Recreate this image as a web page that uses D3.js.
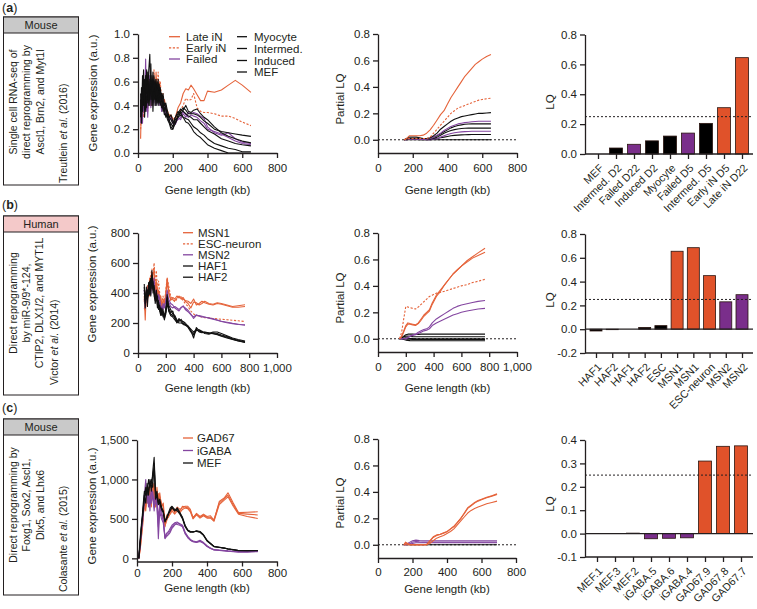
<!DOCTYPE html>
<html><head><meta charset="utf-8">
<script src="https://cdn.jsdelivr.net/npm/d3@7"></script>
<style>
body{margin:0;background:#fff}
svg text{font-family:"Liberation Sans",Arial,Helvetica,sans-serif;fill:#231f20}
</style></head>
<body><svg id="chart" width="757" height="609"></svg>
<script>
// ================= DATA =================
// ---- (a) Treutlein et al. ----
const aX = [15,20,26,32,38,44,50,56,62,68,74,80,86,92,98,104,110,116,122,128,136,144,152,160,170,180,190,200,
  215,230,245,260,275,290,305,320,340,360,380,400,440,480,520,560,600,650];
const aLateIN  = [0.12,0.45,0.3,0.55,0.35,0.6,0.4,0.65,0.5,0.45,0.62,0.4,0.55,0.6,0.45,0.68,0.5,0.55,0.6,0.45,0.5,0.42,0.45,0.38,0.35,0.3,0.32,0.28,
  0.3,0.38,0.42,0.5,0.54,0.53,0.57,0.54,0.49,0.44,0.44,0.52,0.51,0.53,0.57,0.61,0.57,0.51];
const aEarlyIN = [0.2,0.35,0.5,0.3,0.6,0.45,0.55,0.35,0.62,0.5,0.4,0.58,0.45,0.7,0.5,0.45,0.55,0.68,0.5,0.6,0.45,0.5,0.4,0.38,0.35,0.32,0.3,0.3,
  0.28,0.33,0.36,0.4,0.46,0.44,0.45,0.5,0.38,0.35,0.34,0.34,0.33,0.31,0.31,0.29,0.26,0.23];
const aFailed1 = [0.3,0.5,0.25,0.6,0.4,0.79,0.35,0.55,0.45,0.6,0.38,0.5,0.62,0.42,0.55,0.4,0.5,0.45,0.55,0.42,0.4,0.45,0.38,0.35,0.3,0.28,0.3,0.26,
  0.24,0.3,0.28,0.33,0.3,0.34,0.33,0.34,0.33,0.31,0.29,0.22,0.17,0.15,0.17,0.12,0.09,0.08];
const aFailed2 = [0.25,0.4,0.55,0.35,0.5,0.45,0.6,0.3,0.5,0.65,0.45,0.55,0.4,0.6,0.48,0.55,0.42,0.5,0.4,0.48,0.35,0.4,0.33,0.36,0.32,0.27,0.3,0.25,
  0.26,0.28,0.3,0.35,0.32,0.3,0.32,0.31,0.3,0.27,0.25,0.2,0.18,0.16,0.13,0.1,0.08,0.07];
const aMyocyte = [0.4,0.3,0.65,0.45,0.55,0.35,0.6,0.5,0.7,0.83,0.45,0.6,0.5,0.65,0.4,0.55,0.6,0.45,0.5,0.55,0.45,0.5,0.4,0.42,0.35,0.3,0.32,0.27,
  0.25,0.32,0.35,0.38,0.36,0.33,0.33,0.33,0.32,0.3,0.27,0.25,0.2,0.18,0.17,0.16,0.15,0.14];
const aIntermed1 = [0.35,0.55,0.4,0.7,0.3,0.5,0.65,0.42,0.55,0.5,0.75,0.4,0.6,0.45,0.55,0.62,0.42,0.5,0.58,0.45,0.5,0.38,0.42,0.36,0.32,0.3,0.28,0.25,
  0.3,0.35,0.33,0.36,0.4,0.35,0.34,0.36,0.37,0.33,0.3,0.28,0.22,0.17,0.14,0.12,0.1,0.085];
const aIntermed2 = [0.45,0.25,0.5,0.4,0.62,0.5,0.38,0.68,0.45,0.55,0.5,0.65,0.35,0.55,0.6,0.4,0.52,0.62,0.45,0.52,0.48,0.45,0.35,0.4,0.3,0.26,0.25,0.22,
  0.3,0.33,0.37,0.35,0.33,0.31,0.3,0.28,0.28,0.25,0.22,0.19,0.16,0.12,0.1,0.08,0.07,0.06];
const aInduced = [0.3,0.48,0.35,0.58,0.42,0.55,0.7,0.45,0.6,0.4,0.58,0.5,0.68,0.5,0.45,0.58,0.48,0.4,0.52,0.4,0.46,0.35,0.38,0.3,0.33,0.28,0.22,0.2,
  0.28,0.3,0.34,0.3,0.29,0.28,0.25,0.22,0.2,0.17,0.15,0.12,0.08,0.06,0.04,0.03,0.01,0.01];
const aMEF = [0.5,0.35,0.45,0.6,0.38,0.65,0.5,0.58,0.4,0.62,0.55,0.45,0.6,0.52,0.62,0.45,0.55,0.5,0.42,0.5,0.38,0.4,0.32,0.33,0.28,0.25,0.2,0.2,
  0.25,0.3,0.32,0.3,0.26,0.25,0.22,0.18,0.15,0.13,0.1,0.07,0.04,0.02,0,0,0,0];
const aLegendCol1 = ["Late iN","Early iN","Failed"];
const aLegendCol2 = ["Myocyte","Intermed.","Induced","MEF"];

const aPX = [150,165,180,200,220,240,260,280,300,320,340,360,380,400,420,440,460,480,500,520,540,560,580,600,625,650];
const aPLate  = [0,0.01,0.03,0.03,0.03,0.03,0.035,0.05,0.075,0.11,0.15,0.19,0.22,0.27,0.32,0.36,0.4,0.44,0.48,0.51,0.54,0.57,0.59,0.61,0.63,0.645];
const aPEarly = [0,0.005,0.01,0.01,0.01,0.01,0.01,0.01,0.02,0.05,0.08,0.11,0.14,0.17,0.2,0.22,0.24,0.25,0.26,0.27,0.28,0.29,0.3,0.305,0.31,0.315];
const aPIntD5 = [0,0.005,0.01,0.01,0.01,0.01,0.01,0.01,0.015,0.03,0.05,0.08,0.1,0.12,0.14,0.155,0.165,0.175,0.18,0.185,0.19,0.195,0.2,0.2,0.203,0.205];
const aPFailD5 = [0,0.005,0.01,0.01,0.01,0.005,0.005,0.005,0.01,0.02,0.035,0.05,0.07,0.085,0.1,0.11,0.12,0.125,0.13,0.133,0.136,0.138,0.14,0.14,0.14,0.14];
const aPMyo = [0,0.01,0.02,0.02,0.02,0.015,0.01,0.01,0.01,0.02,0.03,0.045,0.06,0.075,0.09,0.1,0.108,0.113,0.117,0.119,0.12,0.12,0.12,0.12,0.12,0.12];
const aPIndD2 = [0,0.005,0.01,0.01,0.01,0.01,0.01,0.005,0.005,0.01,0.02,0.035,0.05,0.06,0.07,0.077,0.082,0.085,0.087,0.088,0.088,0.088,0.088,0.088,0.088,0.088];
const aPFailD22 = [0,0,0.005,0.005,0.005,0.005,0.005,0,0,0.005,0.01,0.02,0.03,0.04,0.047,0.053,0.057,0.06,0.062,0.063,0.064,0.065,0.065,0.065,0.065,0.065];
const aPIntD2 = [0,0,0.005,0.005,0.005,0,0,0,0,0.005,0.01,0.015,0.02,0.025,0.03,0.033,0.035,0.037,0.038,0.039,0.04,0.04,0.04,0.04,0.04,0.04];
const aPMEF = [0,0,0,0,0,0,0,0,0,0,0,0,0,0,0,0,0,0,0,0,0,0,0,0,0,0];

const aBarLabels = ["MEF","Intermed. D2","Failed D22","Induced D2","Myocyte","Failed D5","Intermed. D5","Early iN D5","Late iN D22"];
const aBarValues = [0,0.04,0.065,0.088,0.12,0.14,0.205,0.31,0.645];
const aBarGroups = ["k","k","p","k","k","p","k","o","o"];

// ---- (b) Victor et al. ----
const bX = [45,52,60,68,76,84,92,100,108,116,124,132,140,148,156,164,172,180,190,200,210,220,235,250,
  265,280,295,310,325,340,360,380,400,420,440,460,480,510,540,570,600,640,680,720,770];
const bMSN1a = [380,220,420,330,450,380,500,420,520,560,400,480,350,420,380,330,300,360,320,400,500,420,350,370,
  360,380,370,375,360,350,345,330,360,320,330,345,335,325,320,330,325,315,305,305,310];
const bMSN1b = [350,300,380,450,400,500,430,540,480,500,450,400,430,380,350,380,320,300,340,380,480,400,360,355,
  350,365,380,360,370,345,330,300,340,335,320,330,345,330,325,335,330,320,310,315,322];
const bESCneuron = [300,280,350,420,380,480,520,560,520,600,450,550,420,480,400,350,320,380,330,420,500,450,380,360,
  340,360,370,365,350,330,310,280,260,250,245,240,235,235,230,228,225,222,218,215,210];
const bMSN2a = [420,300,380,350,460,400,480,450,420,500,380,420,340,390,360,320,280,330,300,350,420,360,330,320,
  300,290,280,300,315,290,275,255,240,255,245,240,238,235,228,220,212,205,198,192,185];
const bMSN2b = [360,330,410,380,420,440,390,500,460,430,360,400,380,350,330,300,310,290,320,340,380,340,310,300,
  310,300,290,305,310,300,285,260,230,250,250,245,240,232,226,218,210,202,196,190,188];
const bHAF1a = [460,300,440,360,400,480,380,550,450,420,330,380,300,350,280,250,300,260,220,280,390,300,270,280,
  230,200,220,215,210,200,180,150,100,170,150,140,135,130,140,140,130,115,100,90,80];
const bHAF1b = [400,350,420,310,470,420,500,430,480,380,350,420,340,300,320,280,250,290,240,300,350,320,290,260,
  250,220,210,225,200,190,170,140,120,150,155,145,130,125,135,130,120,110,95,85,75];
const bHAF2a = [440,330,390,420,380,440,460,500,400,450,380,350,380,290,300,260,280,240,250,270,370,280,250,240,
  220,205,230,210,190,185,175,150,130,160,140,135,140,135,130,125,115,105,92,82,72];
const bHAF2b = [420,380,360,400,430,390,470,520,440,400,360,400,320,330,280,300,260,270,230,260,330,290,260,250,
  240,210,200,200,195,190,180,160,140,155,145,140,138,132,128,122,112,100,90,80,70];
const bLegend = ["MSN1","ESC-neuron","MSN2","HAF1","HAF2"];

const bPX = [155,170,185,200,215,230,250,270,290,310,330,350,370,390,420,450,480,510,540,570,600,640,680,720,770];
const bPMSN1a = [0,0.02,0.06,0.1,0.12,0.115,0.11,0.105,0.12,0.15,0.18,0.2,0.22,0.27,0.33,0.37,0.41,0.45,0.49,0.52,0.55,0.59,0.62,0.65,0.685];
const bPMSN1b = [0,0.015,0.05,0.09,0.11,0.11,0.105,0.1,0.115,0.14,0.17,0.19,0.21,0.26,0.32,0.36,0.41,0.45,0.49,0.52,0.55,0.58,0.61,0.63,0.655];
const bPESCneuron = [0,0.05,0.15,0.245,0.24,0.235,0.23,0.225,0.24,0.26,0.28,0.3,0.32,0.33,0.345,0.35,0.36,0.37,0.38,0.39,0.4,0.41,0.425,0.435,0.45];
const bPMSN2a = [0,0,0,0,0.01,0.02,0.03,0.035,0.05,0.06,0.07,0.075,0.09,0.12,0.15,0.17,0.19,0.21,0.23,0.245,0.255,0.265,0.275,0.283,0.29];
const bPMSN2b = [0,0,0,0,0.01,0.02,0.025,0.03,0.04,0.05,0.06,0.065,0.075,0.1,0.12,0.135,0.15,0.165,0.18,0.19,0.2,0.21,0.218,0.225,0.23];
const bPESC = [0,0.01,0.02,0.03,0.035,0.035,0.035,0.033,0.033,0.035,0.035,0.035,0.035,0.035,0.035,0.035,0.035,0.035,0.035,0.035,0.035,0.035,0.035,0.035,0.035];
const bPHAF2b = [0,0.005,0.015,0.02,0.02,0.018,0.016,0.015,0.015,0.015,0.015,0.015,0.015,0.015,0.015,0.015,0.015,0.015,0.015,0.015,0.015,0.015,0.015,0.015,0.015];
const bPHAF1b = [0,0,0.005,0.008,0.005,0.003,0.002,0,0,0,0,0,0,0,0,0,0,0,0,0,0,0,0,0,0];
const bPHAF2a = [0,0,0,-0.002,-0.003,-0.004,-0.005,-0.005,-0.005,-0.005,-0.005,-0.005,-0.005,-0.005,-0.005,-0.005,-0.005,-0.005,-0.005,-0.005,-0.005,-0.005,-0.005,-0.005,-0.005];
const bPHAF1a = [0,0,-0.005,-0.01,-0.012,-0.014,-0.015,-0.015,-0.015,-0.015,-0.015,-0.015,-0.015,-0.015,-0.015,-0.015,-0.015,-0.015,-0.015,-0.015,-0.015,-0.015,-0.015,-0.015,-0.015];

const bBarLabels = ["HAF1","HAF2","HAF1","HAF2","ESC","MSN1","MSN1","ESC-neuron","MSN2","MSN2"];
const bBarValues = [-0.015,-0.004,0,0.015,0.03,0.655,0.685,0.45,0.23,0.29];
const bBarGroups = ["k","k","k","k","k","o","o","o","p","p"];

// ---- (c) Colasante et al. ----
const cX = [10,18,26,34,42,50,58,66,74,82,90,98,106,114,122,130,140,150,160,170,180,190,200,215,230,245,260,275,290,305,
  320,340,360,380,400,420,440,470,500,520,550,580,630,690];
const cGAD67a = [0,150,350,500,700,600,850,700,900,650,950,800,700,900,700,830,650,700,450,550,520,580,620,600,650,620,640,660,660,620,
  510,570,530,560,530,540,480,720,770,830,700,580,585,590];
const cGAD67b = [0,100,300,550,650,750,700,900,800,750,850,950,650,800,750,780,700,650,400,520,560,600,650,580,620,600,660,650,640,600,
  520,560,520,550,520,520,490,700,760,800,680,570,560,550];
const cGAD67c = [0,120,280,450,750,650,780,820,700,850,900,750,800,700,820,720,600,620,420,480,540,560,600,560,600,580,620,640,630,590,
  500,550,510,540,510,510,470,680,740,780,660,560,530,505];
const cIGABAa = [0,200,400,600,800,1000,700,850,600,900,800,600,850,700,250,600,500,450,250,280,300,330,380,420,450,440,420,330,280,240,
  220,210,230,200,160,130,110,105,100,95,90,85,85,90];
const cIGABAb = [0,180,350,550,700,900,800,750,700,850,750,700,800,650,400,650,550,480,260,300,320,350,400,440,430,420,400,310,270,230,
  210,200,220,190,150,125,105,100,95,90,85,80,80,85];
const cIGABAc = [0,160,380,500,750,850,900,650,800,700,850,650,700,750,500,700,600,500,270,320,340,380,420,450,460,430,410,320,260,230,
  215,205,215,195,155,128,108,102,98,92,88,82,82,88];
const cMEFa = [0,250,450,550,800,700,950,800,1000,850,1100,1280,800,850,700,750,650,600,480,500,560,620,650,600,640,580,520,420,360,340,
  330,350,340,300,230,190,150,140,130,120,110,100,100,100];
const cMEFb = [0,200,400,600,750,900,800,1000,900,950,1050,1150,750,800,720,700,620,580,460,520,580,640,660,620,600,560,500,400,350,330,
  340,340,330,290,220,185,148,138,128,118,108,98,98,98];
const cMEFc = [0,180,420,650,850,800,900,850,950,1000,900,1200,850,780,680,720,630,590,470,510,570,600,640,610,620,570,510,410,355,335,
  335,345,335,295,225,188,150,140,130,118,108,100,98,100];
const cLegend = ["GAD67","iGABA","MEF"];

const cPX = [150,160,170,185,200,220,240,260,280,300,320,340,360,380,400,420,440,460,480,500,520,540,560,580,600,630,660,690];
const cPGADa = [0,0.02,0.01,0,0,0,0,0,0,0.03,0.06,0.075,0.08,0.09,0.1,0.12,0.14,0.17,0.2,0.24,0.28,0.3,0.32,0.335,0.345,0.36,0.37,0.385];
const cPGADb = [0,0.015,0.01,0,0,0,0,0,0,0.025,0.055,0.07,0.078,0.088,0.098,0.118,0.138,0.168,0.2,0.235,0.275,0.295,0.315,0.33,0.34,0.355,0.368,0.38];
const cPGADc = [0,0,0,0,0,0,0,0,0,0.01,0.03,0.05,0.06,0.07,0.085,0.1,0.12,0.15,0.18,0.21,0.24,0.26,0.275,0.285,0.295,0.31,0.32,0.33];
const cPIGABAa = [0,0.005,0.01,0.02,0.03,0.035,0.032,0.03,0.03,0.03,0.03,0.03,0.03,0.03,0.03,0.03,0.03,0.03,0.03,0.03,0.03,0.03,0.03,0.03,0.03,0.03,0.03,0.03];
const cPIGABAb = [0,0,0.005,0.01,0.02,0.025,0.022,0.02,0.02,0.02,0.02,0.02,0.02,0.02,0.02,0.02,0.02,0.02,0.02,0.02,0.02,0.02,0.02,0.02,0.02,0.02,0.02,0.02];
const cPIGABAc = [0,0,0,0.005,0.01,0.015,0.015,0.015,0.015,0.015,0.015,0.015,0.015,0.015,0.015,0.015,0.015,0.015,0.015,0.015,0.015,0.015,0.015,0.015,0.015,0.015,0.015,0.015];
const cPMEF = [0,0,0,0,0,0,0,0,0,0,0,0,0,0,0,0,0,0,0,0,0,0,0,0,0,0,0,0];

const cBarLabels = ["MEF.1","MEF.3","MEF.2","iGABA.5","iGABA.6","iGABA.4","GAD67.9","GAD67.8","GAD67.7"];
const cBarValues = [0,0,0.002,-0.022,-0.02,-0.018,0.31,0.373,0.375];
const cBarGroups = ["k","k","k","p","p","p","o","o","o"];

// ================= STYLE =================
const LINECOL = {o:"#e5633a", p:"#8446a0", k:"#111111"};
const BARCOL = {o:"#e0522a", p:"#7a2e8b", k:"#000000"};
const FS = 11.5;
const fmt1 = v => d3.format(".1f")(v).replace("\u2212","-");
const fmtInt = v => d3.format(",")(v).replace("\u2212","-");

const svg = d3.select("#chart");

function styleAxis(g){
  g.attr("font-size",null).attr("font-family",null);
  g.selectAll("path.domain").attr("stroke","#231f20").attr("stroke-width",1.3);
  g.selectAll(".tick line").attr("stroke","#231f20").attr("stroke-width",1.3);
  g.selectAll(".tick text").attr("font-size",FS).attr("fill","#231f20");
}

function drawAxes(xs, ys, cfg){
  const gy = svg.append("g").attr("transform",`translate(${xs.range()[0]},0)`)
    .call(d3.axisLeft(ys).tickValues(cfg.yTicks).tickFormat(cfg.yFmt).tickSize(5).tickSizeOuter(0).tickPadding(3));
  styleAxis(gy);
  const gx = svg.append("g").attr("transform",`translate(0,${ys.range()[0]})`)
    .call(d3.axisBottom(xs).tickValues(cfg.xTicks).tickFormat(cfg.xFmt).tickSize(5).tickSizeOuter(0)
      .tickPadding(cfg.xPad==null?6:cfg.xPad));
  styleAxis(gx);
}

function label(x,y,txt,rot,size){
  return svg.append("text").attr("transform",`translate(${x},${y})`+(rot?` rotate(${rot})`:""))
    .attr("text-anchor","middle").attr("dy","0.35em").attr("font-size",size||FS).text(txt);
}

function drawLines(xs, ys, xv, seriesList, width){
  const line = d3.line().x((d,i)=>xs(xv[i])).y(d=>ys(d));
  seriesList.forEach(s=>{
    svg.append("path").datum(s.v).attr("d",line).attr("fill","none")
      .attr("stroke",LINECOL[s.g]).attr("stroke-width",width||1.1)
      .attr("stroke-dasharray",s.dash?"2.2,1.6":null).attr("stroke-linejoin","round");
  });
}

function dotted(x1,x2,y){
  svg.append("line").attr("x1",x1).attr("x2",x2).attr("y1",y).attr("y2",y)
    .attr("stroke","#231f20").attr("stroke-width",1).attr("stroke-dasharray","2,2");
}

function legendItem(x1,x2,tx,y,g,dash,txt){
  svg.append("line").attr("x1",x1).attr("x2",x2).attr("y1",y).attr("y2",y)
    .attr("stroke",LINECOL[g]).attr("stroke-width",1.3).attr("stroke-dasharray",dash?"2.2,1.6":null);
  svg.append("text").attr("x",tx).attr("y",y).attr("dy","0.35em").attr("font-size",FS).text(txt);
}

function barPanel(cfg){
  const ys = d3.scaleLinear().domain(cfg.yDomain).range(cfg.yRange);
  const idx = cfg.values.map((d,i)=>i);
  const xs = d3.scalePoint().domain(idx).range(cfg.xRange);
  const base = ys(0);
  svg.append("g").selectAll("rect").data(cfg.values).join("rect")
    .attr("x",(d,i)=>xs(i)-cfg.bw/2).attr("width",cfg.bw)
    .attr("y",d=>Math.min(ys(d),base)).attr("height",d=>Math.abs(ys(d)-base))
    .attr("fill",(d,i)=>BARCOL[cfg.groups[i]]).attr("stroke","#2a1510").attr("stroke-width",0.8);
  if(cfg.yDomain[0] < 0){
    svg.append("line").attr("x1",cfg.axisX).attr("x2",cfg.axisEnd).attr("y1",base).attr("y2",base)
      .attr("stroke","#231f20").attr("stroke-width",1.3);
  }
  dotted(cfg.axisX, cfg.axisEnd, ys(0.25));
  const gy = svg.append("g").attr("transform",`translate(${cfg.axisX},0)`)
    .call(d3.axisLeft(ys).tickValues(cfg.yTicks).tickFormat(fmt1).tickSize(5).tickSizeOuter(0).tickPadding(3));
  styleAxis(gy);
  const axY = ys.range()[0];
  const gx = svg.append("g").attr("transform",`translate(0,${axY})`)
    .call(d3.axisBottom(xs).tickFormat(i=>cfg.labels[i]).tickSize(5).tickSizeOuter(0));
  styleAxis(gx);
  gx.select("path.domain").remove();
  gx.append("line").attr("x1",cfg.axisX).attr("x2",cfg.axisEnd).attr("y1",0).attr("y2",0)
    .attr("stroke","#231f20").attr("stroke-width",1.3);
  gx.selectAll(".tick text").attr("y",0).attr("x",0).attr("dy","0.35em")
    .attr("transform","translate(3,12) rotate(-45)").attr("text-anchor","end").attr("font-size",10.8);
  label(550, cfg.lqY, "LQ", -90);
}

function sideBox(cfg){
  const t = svg.append("text").attr("x",2).attr("y",cfg.letterY).attr("font-size",12.5);
  t.append("tspan").text("(");
  t.append("tspan").attr("font-weight","bold").text(cfg.letter);
  t.append("tspan").text(")");
  svg.append("rect").attr("x",3.5).attr("y",cfg.top).attr("width",75).attr("height",cfg.bottom-cfg.top)
    .attr("fill","#fff").attr("stroke","#231f20").attr("stroke-width",1);
  svg.append("rect").attr("x",3.5).attr("y",cfg.top).attr("width",75).attr("height",16)
    .attr("fill",cfg.headFill).attr("stroke","#231f20").attr("stroke-width",1);
  svg.append("text").attr("x",41).attr("y",cfg.top+8).attr("dy","0.36em").attr("text-anchor","middle")
    .attr("font-size",11).text(cfg.head);
  cfg.lines.forEach((ln,i)=>{
    svg.append("text").attr("transform",`translate(${cfg.lineX[i]},${cfg.midY}) rotate(-90)`)
      .attr("text-anchor","middle").attr("dy","0.35em").attr("font-size",10.5).text(ln);
  });
  const c = svg.append("text").attr("transform",`translate(${cfg.citeX},${cfg.citeStart}) rotate(-90)`)
    .attr("text-anchor","start").attr("dy","0.35em").attr("font-size",10.5);
  c.append("tspan").text(cfg.cite[0]);
  c.append("tspan").attr("font-style","italic").text(" et al.");
  c.append("tspan").text(cfg.cite[1]);
}

// ================= ROW (a) =================
sideBox({letter:"a",letterY:12,top:17,bottom:185,headFill:"#c9c9c9",head:"Mouse",
  lines:["Single cell RNA-seq of","direct reprogramming by","Ascl1, Brn2, and Myt1l"],lineX:[13,26.5,40],midY:102,
  cite:["Treutlein"," (2016)"],citeX:63,citeStart:183});
{
  const xs = d3.scaleLinear().domain([0,800]).range([138,277]);
  const ys = d3.scaleLinear().domain([0,1]).range([153,34]);
  drawLines(xs, ys, aX, [
    {v:aLateIN,g:"o"},{v:aEarlyIN,g:"o",dash:true},
    {v:aFailed1,g:"p"},{v:aFailed2,g:"p"},
    {v:aMyocyte,g:"k"},{v:aIntermed1,g:"k"},{v:aIntermed2,g:"k"},{v:aInduced,g:"k"},{v:aMEF,g:"k"}]);
  drawAxes(xs, ys, {yTicks:[0,0.2,0.4,0.6,0.8,1.0],yFmt:fmt1,xTicks:[0,200,400,600,800],xFmt:d3.format("d")});
  label(93,93,"Gene expression (a.u.)",-90);
  label(207.5,190,"Gene length (kb)");
  const c1 = ["o","o","p"], d1=[false,true,false], r1=[36.7,47.8,59];
  aLegendCol1.forEach((t,i)=>legendItem(169,180,186,r1[i],c1[i],d1[i],t));
  const r2=[36.7,48.5,60.5,72];
  aLegendCol2.forEach((t,i)=>legendItem(237,247,254,r2[i],"k",false,t));
}
{
  const xs = d3.scaleLinear().domain([0,800]).range([378,517]);
  const ys = d3.scaleLinear().domain([-0.1,0.8]).range([153,34]);
  dotted(378,517,ys(0));
  drawLines(xs, ys, aPX, [
    {v:aPMEF,g:"k"},{v:aPIntD2,g:"k"},{v:aPFailD22,g:"p"},{v:aPIndD2,g:"k"},{v:aPMyo,g:"k"},
    {v:aPFailD5,g:"p"},{v:aPIntD5,g:"k"},{v:aPEarly,g:"o",dash:true},{v:aPLate,g:"o"}]);
  drawAxes(xs, ys, {yTicks:[0,0.2,0.4,0.6,0.8],yFmt:fmt1,xTicks:[0,200,400,600,800],xFmt:d3.format("d")});
  label(340,99,"Partial LQ",-90);
  label(447.5,190,"Gene length (kb)");
}
barPanel({values:aBarValues,labels:aBarLabels,groups:aBarGroups,yDomain:[0,0.8],yRange:[154,34.5],
  xRange:[598,742],bw:13,axisX:585,axisEnd:753,yTicks:[0,0.2,0.4,0.6,0.8],lqY:102});

// ================= ROW (b) =================
sideBox({letter:"b",letterY:209,top:216,bottom:395,headFill:"#f4c9c9",head:"Human",
  lines:["Direct reprogramming","by miR-9/9*-124,","CTIP2, DLX1/2, and MYT1L"],lineX:[13,26.5,39.5],midY:303,
  cite:["Victor"," (2014)"],citeX:54,citeStart:385});
{
  const xs = d3.scaleLinear().domain([0,1000]).range([138,277]);
  const ys = d3.scaleLinear().domain([0,800]).range([353,233]);
  drawLines(xs, ys, bX, [
    {v:bMSN1a,g:"o"},{v:bMSN1b,g:"o"},{v:bESCneuron,g:"o",dash:true},
    {v:bMSN2a,g:"p"},{v:bMSN2b,g:"p"},
    {v:bHAF1a,g:"k"},{v:bHAF1b,g:"k"},{v:bHAF2a,g:"k"},{v:bHAF2b,g:"k"}]);
  drawAxes(xs, ys, {yTicks:[0,200,400,600,800],yFmt:d3.format("d"),xTicks:[0,200,400,600,800,1000],xFmt:fmtInt});
  label(92,284,"Gene expression (a.u.)",-90);
  label(207.5,388,"Gene length (kb)");
  const cols=["o","o","p","k","k"], ds=[false,true,false,false,false], rows=[232.7,243.8,254.8,266,277.2];
  bLegend.forEach((t,i)=>legendItem(183,193,198,rows[i],cols[i],ds[i],t));
}
{
  const xs = d3.scaleLinear().domain([0,1000]).range([378,517]);
  const ys = d3.scaleLinear().domain([-0.1,0.8]).range([352,233]);
  dotted(378,517,ys(0));
  drawLines(xs, ys, bPX, [
    {v:bPHAF1a,g:"k"},{v:bPHAF2a,g:"k"},{v:bPHAF1b,g:"k"},{v:bPHAF2b,g:"k"},{v:bPESC,g:"k"},
    {v:bPMSN2a,g:"p"},{v:bPMSN2b,g:"p"},{v:bPESCneuron,g:"o",dash:true},{v:bPMSN1a,g:"o"},{v:bPMSN1b,g:"o"}]);
  drawAxes(xs, ys, {yTicks:[0,0.2,0.4,0.6,0.8],yFmt:fmt1,xTicks:[0,200,400,600,800,1000],xFmt:fmtInt});
  label(340,298,"Partial LQ",-90);
  label(447.5,388,"Gene length (kb)");
}
barPanel({values:bBarValues,labels:bBarLabels,groups:bBarGroups,yDomain:[-0.2,0.8],yRange:[353,234],
  xRange:[596,742],bw:12,axisX:585,axisEnd:753,yTicks:[-0.2,0,0.2,0.4,0.6,0.8],lqY:300});

// ================= ROW (c) =================
sideBox({letter:"c",letterY:412,top:419,bottom:595,headFill:"#c9c9c9",head:"Mouse",
  lines:["Direct reprogramming by","Foxg1, Sox2, Ascl1,","Dlx5, and Lhx6"],lineX:[13,26.5,40],midY:505,
  cite:["Colasante"," (2015)"],citeX:63,citeStart:592});
{
  const xs = d3.scaleLinear().domain([0,800]).range([137,277]);
  const ys = d3.scaleLinear().domain([-40,1500]).range([561.5,440]);
  drawLines(xs, ys, cX, [
    {v:cGAD67a,g:"o"},{v:cGAD67b,g:"o"},{v:cGAD67c,g:"o"},
    {v:cIGABAa,g:"p"},{v:cIGABAb,g:"p"},{v:cIGABAc,g:"p"},
    {v:cMEFa,g:"k"},{v:cMEFb,g:"k"},{v:cMEFc,g:"k"}]);
  drawAxes(xs, ys, {yTicks:[0,500,1000,1500],yFmt:fmtInt,xTicks:[0,200,400,600,800],xFmt:d3.format("d"),xPad:2});
  label(92,506,"Gene expression (a.u.)",-90);
  label(207,588,"Gene length (kb)");
  const cols=["o","p","k"], rows=[438,450.5,463];
  cLegend.forEach((t,i)=>legendItem(183,193,197,rows[i],cols[i],false,t));
}
{
  const xs = d3.scaleLinear().domain([0,800]).range([378,516]);
  const ys = d3.scaleLinear().domain([-0.1,0.8]).range([558,439]);
  dotted(378,516,ys(0));
  drawLines(xs, ys, cPX, [
    {v:cPMEF,g:"k"},{v:cPIGABAc,g:"p"},{v:cPIGABAb,g:"p"},{v:cPIGABAa,g:"p"},
    {v:cPGADc,g:"o"},{v:cPGADb,g:"o"},{v:cPGADa,g:"o"}]);
  drawAxes(xs, ys, {yTicks:[0,0.2,0.4,0.6,0.8],yFmt:fmt1,xTicks:[0,200,400,600,800],xFmt:d3.format("d"),xPad:5});
  label(340,503,"Partial LQ",-90);
  label(447,589,"Gene length (kb)");
}
barPanel({values:cBarValues,labels:cBarLabels,groups:cBarGroups,yDomain:[-0.1,0.4],yRange:[557,440],
  xRange:[597,741],bw:13,axisX:585,axisEnd:753,yTicks:[-0.1,0,0.1,0.2,0.3,0.4],lqY:504});
</script></body></html>
